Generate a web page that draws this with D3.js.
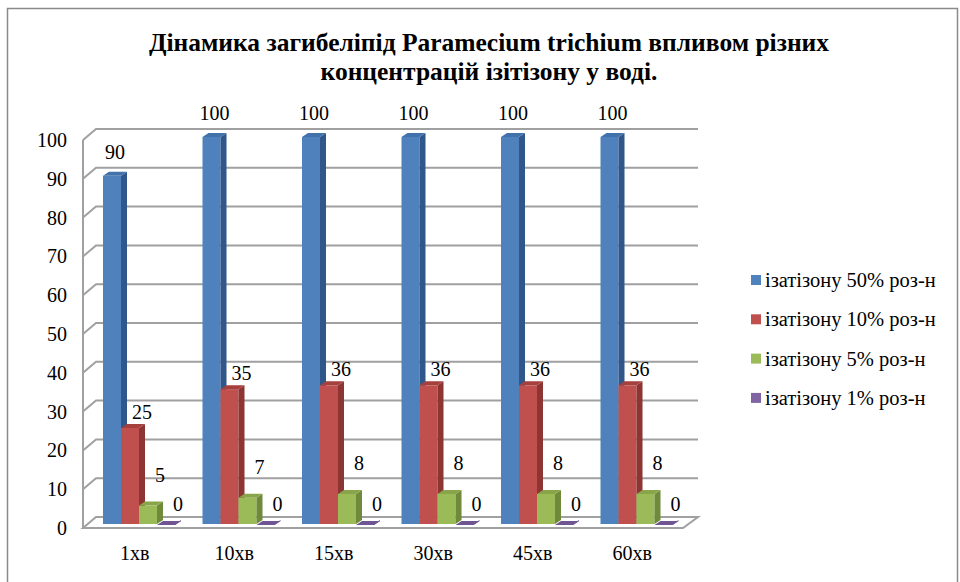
<!DOCTYPE html>
<html>
<head>
<meta charset="utf-8">
<script src="https://cdn.jsdelivr.net/npm/d3@7"></script>
<style>
  body { margin: 0; background: #fff; }
</style>
</head>
<body>
<svg id="chart" width="960" height="582"></svg>
<script>
const categories = ['1хв', '10хв', '15хв', '30хв', '45хв', '60хв'];
const seriesNames = ['ізатізону 50% роз-н', 'ізатізону 10% роз-н', 'ізатізону 5% роз-н', 'ізатізону 1% роз-н'];
const s50 = [90, 100, 100, 100, 100, 100];
const s10 = [25, 35, 36, 36, 36, 36];
const s5 = [5, 7, 8, 8, 8, 8];
const s1 = [0, 0, 0, 0, 0, 0];
const yTicks = [0, 10, 20, 30, 40, 50, 60, 70, 80, 90, 100];
const titleLines = ['Дінамика загибеліпід Paramecium trichium впливом різних', 'концентрацій ізітізону у воді.'];

const seriesValues = [s50, s10, s5, s1];
const colors = [
  { front: '#4F81BD', side: '#30578A', top: '#4272AC' },
  { front: '#C0504D', side: '#8C3533', top: '#A5403D' },
  { front: '#9BBB59', side: '#6E8A3A', top: '#88A649' },
  { front: '#8064A2', side: '#5E4A7C', top: '#6F5693' }
];
const FONT = '"Times New Roman", "Liberation Serif", "DejaVu Serif", serif';

const svg = d3.select('#chart');

// outer frame
svg.append('rect')
  .attr('x', 7.5).attr('y', 8.5)
  .attr('width', 950).attr('height', 600)
  .attr('fill', 'none').attr('stroke', '#8a8a8a').attr('stroke-width', 1.5);

// title
svg.append('g').selectAll('text')
  .data(titleLines)
  .enter().append('text')
    .attr('x', 489)
    .attr('y', (d, i) => 51 + i * 29)
    .attr('text-anchor', 'middle')
    .style('font-family', FONT)
    .style('font-size', '25.5px')
    .style('font-weight', 'bold')
    .text(d => d);

const x = d3.scaleBand().domain(categories).range([83, 680]);
const y = d3.scaleLinear().domain([0, 100]).range([528, 140]);

const DX = 13, DY = 11;      // depth of the back wall
const right = 698;
const barW = 18, bdx = 6, bdy = 4;

// gridlines / walls
const grid = svg.append('g');
grid.selectAll('polyline')
  .data(yTicks.filter(d => d > 0))
  .enter().append('polyline')
    .attr('points', d => `83,${y(d)} ${83 + DX},${y(d) - DY} ${right},${y(d) - DY}`)
    .attr('fill', 'none').attr('stroke', '#a0a0a0').attr('stroke-width', 2);

grid.append('polygon')
  .attr('points', `83,${y(0)} ${83 + DX},${y(0) - DY} ${right},${y(0) - DY} ${right - 15},${y(0)}`)
  .attr('fill', 'none').attr('stroke', '#a0a0a0').attr('stroke-width', 2);

grid.append('line')
  .attr('x1', 83).attr('x2', 83)
  .attr('y1', y(100)).attr('y2', y(0))
  .attr('stroke', '#a0a0a0').attr('stroke-width', 2);

// y axis labels
svg.append('g').selectAll('text')
  .data(yTicks)
  .enter().append('text')
    .attr('x', 67)
    .attr('y', d => y(d) + 7)
    .attr('text-anchor', 'end')
    .style('font-family', FONT)
    .style('font-size', '20px')
    .text(d => d);

// category labels
svg.append('g').selectAll('text')
  .data(categories)
  .enter().append('text')
    .attr('x', d => x(d) + x.bandwidth() / 2 + 2)
    .attr('y', 560)
    .attr('text-anchor', 'middle')
    .style('font-family', FONT)
    .style('font-size', '20px')
    .text(d => d);

// bars
const bars = [];
categories.forEach((c, ci) => {
  seriesValues.forEach((vals, si) => {
    bars.push({ c, si, v: vals[ci], x0: x(c) + 20 + si * barW });
  });
});

const barG = svg.append('g');
bars.forEach(b => {
  const yb = y(0) - 4;
  const yt = y(b.v) - 3;
  const col = colors[b.si];
  const g = barG.append('g');
  g.append('rect')
    .attr('x', b.x0).attr('y', yt)
    .attr('width', barW).attr('height', yb - yt)
    .attr('fill', col.front);
  g.append('polygon')
    .attr('points', `${b.x0 + barW},${yt} ${b.x0 + barW + bdx},${yt - bdy} ${b.x0 + barW + bdx},${yb - bdy} ${b.x0 + barW},${yb}`)
    .attr('fill', col.side);
  g.append('polygon')
    .attr('points', `${b.x0},${yt} ${b.x0 + bdx},${yt - bdy} ${b.x0 + barW + bdx},${yt - bdy} ${b.x0 + barW},${yt}`)
    .attr('fill', col.top);
});

// value labels
const labelDx = [3, 12, 12, 12];
const labelDy = [-17, -9, -24, -14];
svg.append('g').selectAll('text')
  .data(bars)
  .enter().append('text')
    .attr('x', d => d.x0 + barW / 2 + labelDx[d.si])
    .attr('y', d => y(d.v) - 3 + labelDy[d.si])
    .attr('text-anchor', 'middle')
    .style('font-family', FONT)
    .style('font-size', '20px')
    .text(d => d.v);

// legend
const legend = svg.append('g').selectAll('g')
  .data(seriesNames)
  .enter().append('g')
    .attr('transform', (d, i) => `translate(751,${275 + i * 39.3})`);
legend.append('rect')
  .attr('width', 10).attr('height', 10)
  .attr('fill', (d, i) => colors[i].front);
legend.append('text')
  .attr('x', 14).attr('y', 12)
  .style('font-family', FONT)
  .style('font-size', '20.5px')
  .text(d => d);
</script>
</body>
</html>
